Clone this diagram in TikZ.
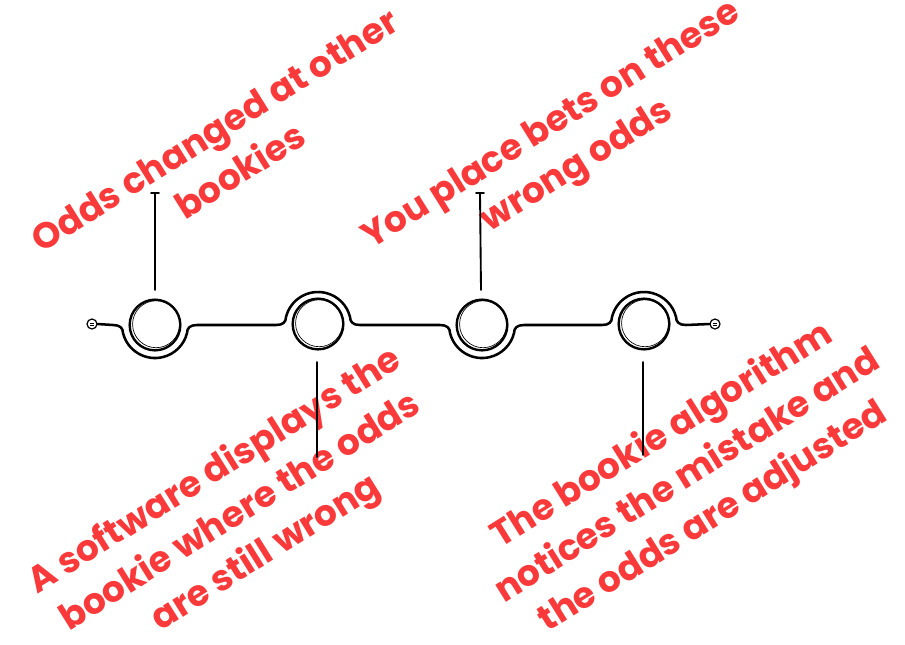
\documentclass[tikz,border=0pt]{standalone}
\usepackage{fontspec}
\newfontfamily\notefont{Poppins}
\definecolor{notered}{RGB}{250,58,58}
\tikzset{
  stop/.style={circle,draw,line width=1.8pt,minimum size=38pt,inner sep=0pt},
  endcap/.style={circle,draw,line width=0.9pt,minimum size=7.5pt,inner sep=0pt},
  rail/.style={line width=1.9pt,line cap=round,line join=round},
  stem/.style={line width=1.4pt,line cap=round},
  note/.style={text=notered,font=\notefont\bfseries\fontsize{27}{36}\selectfont,align=center,rotate=32,inner sep=0pt}
}
\begin{document}
\begin{tikzpicture}[x=0.75pt,y=0.75pt,yscale=-1,xscale=1]
\useasboundingbox (0,0) rectangle (905,644);

% Notes
\node[note] (n1) at (227,150) {Odds changed at other\\bookies};
\node[note] (n2) at (565,147) {You place bets on these\\wrong odds};
\node[note] (n3) at (241,513) {A software displays the\\bookie where the odds\\are still wrong};
\node[note] (n4) at (688,477) {The bookie algorithm\\notices the mistake and\\the odds are adjusted};

% Stops on the timeline
\node[stop] (s1) at (155,325) {};
\node[stop] (s2) at (318,324) {};
\node[stop] (s3) at (482,325) {};
\node[stop] (s4) at (644,324) {};
% sketchy second stroke
\foreach \p in {s1,s2,s3,s4}
  \draw[line width=0.5pt] ([xshift=0.8pt,yshift=-0.6pt]\p.center) circle[radius=23.5];

% End caps
\node[endcap] (e1) at (92,324) {};
\node[endcap] (e2) at (715,324) {};
\foreach \p in {e1,e2}{
  \draw[line width=0.5pt] ([xshift=-1.8pt,yshift=0.8pt]\p.center) -- ++(3.6pt,0);
  \draw[line width=0.5pt] ([xshift=-1.8pt,yshift=-0.8pt]\p.center) -- ++(3.6pt,0);
}

% Rail
\draw[rail] (e1.east) \foreach \cx/\s in {155/1,318/-1,482/1,644/-1}{
  -- (\cx-42,325) .. controls (\cx-35,325) and (\cx-32,325+3*\s) .. (\cx-32,325+8*\s)
  arc[start angle={180-14*\s}, delta angle={-152*\s}, radius=33]
  .. controls (\cx+32,325+3*\s) and (\cx+35,325) .. (\cx+42,325)
} -- (e2.west);

% Stems
\coordinate (t1) at (155,193);
\coordinate (t3) at (480,193);
\coordinate (b2) at (317,457);
\coordinate (b4) at (643,455);
\draw[stem] (155,290) -- (t1);
\draw[stem] ([xshift=-3pt]t1) -- ([xshift=3pt]t1);
\draw[stem] (481,290) -- (t3);
\draw[stem] ([xshift=-3pt]t3) -- ([xshift=3pt]t3);
\draw[stem] (317,362) -- (b2);
\draw[stem] (643,362) -- (b4);

\end{tikzpicture}
\end{document}
